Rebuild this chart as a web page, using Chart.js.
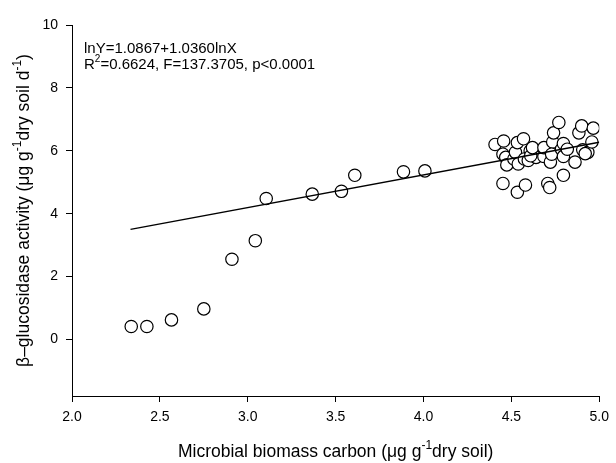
<!DOCTYPE html>
<html lang="en">
<head>
    <meta charset="UTF-8">
    <title>Glucosidase vs microbial biomass carbon</title>
    <style>
        html, body {
            margin: 0;
            padding: 0;
            background: #fff;
        }
        #wrap {
            width: 616px;
            height: 463px;
        }
    </style>
</head>
<body>
    <div id="wrap">
        <canvas id="chart" width="616" height="463"></canvas>
    </div>

    <script src="https://cdn.jsdelivr.net/npm/chart.js"></script>
    <script>
        // values (log-transformed axes)
        const carbon = [
            2.337, 2.426, 2.566, 2.75, 2.91, 3.043, 3.105, 3.367, 3.533, 3.609, 3.886, 4.008,
            4.407, 4.456, 4.452, 4.468, 4.474, 4.452, 4.514, 4.523, 4.534, 4.569,
            4.539, 4.534, 4.58, 4.574, 4.596, 4.607, 4.64, 4.61, 4.685, 4.62,
            4.685, 4.707, 4.718, 4.722, 4.735, 4.74, 4.77, 4.729, 4.785, 4.796,
            4.796, 4.796, 4.818, 4.862, 4.884, 4.90, 4.906, 4.935, 4.958, 4.966, 4.92
        ];
        const activity = [
            0.41, 0.41, 0.62, 0.97, 2.55, 3.14, 4.48, 4.62, 4.71, 5.22, 5.33, 5.36,
            6.20, 6.31, 5.89, 5.79, 5.55, 4.96, 5.74, 5.95, 6.26, 6.38,
            5.58, 4.68, 4.91, 5.74, 5.69, 6.00, 5.79, 5.84, 5.82, 6.10,
            6.10, 4.96, 4.83, 5.64, 6.28, 6.57, 6.90, 5.89, 6.05, 6.23,
            5.82, 5.22, 6.05, 5.64, 6.57, 6.79, 6.03, 5.95, 6.28, 6.72, 5.91
        ];
        // fitted line end points
        const fitX = [2.333, 5.0];
        const fitY = [3.50, 6.27];

        const xTicks = [2.0, 2.5, 3.0, 3.5, 4.0, 4.5, 5.0];
        const yTicks = [0, 2, 4, 6, 8, 10];

        const FONT = "'Liberation Sans', Arial, sans-serif";

        // draw text with superscript parts, segs = [[text, isSup], ...]
        function drawRich(ctx, segs, x, y, size, align) {
            const supSize = Math.round(size * 0.66);
            let total = 0;
            segs.forEach(s => {
                ctx.font = (s[1] ? supSize : size) + 'px ' + FONT;
                total += ctx.measureText(s[0]).width;
            });
            let cx = align === 'center' ? x - total / 2 : x;
            ctx.textAlign = 'left';
            ctx.textBaseline = 'middle';
            segs.forEach(s => {
                ctx.font = (s[1] ? supSize : size) + 'px ' + FONT;
                ctx.fillText(s[0], cx, s[1] ? y - size * 0.38 : y);
                cx += ctx.measureText(s[0]).width;
            });
        }

        const labelsPlugin = {
            id: 'labels',
            afterDraw(chart) {
                const ctx = chart.ctx;
                const area = chart.chartArea;
                ctx.save();
                ctx.fillStyle = '#000';

                // x title
                drawRich(ctx, [['Microbial biomass carbon (\u03bcg g', false], ['-1', true], ['dry soil)', false]],
                    (area.left + area.right) / 2, 452, 17.5, 'center');

                // y title
                ctx.save();
                ctx.translate(24, (area.top + area.bottom) / 2);
                ctx.rotate(-Math.PI / 2);
                drawRich(ctx, [['\u03b2\u2013glucosidase activity (\u03bcg g', false], ['-1', true],
                    ['dry soil d', false], ['-1', true], [')', false]], 0, 0, 17.5, 'center');
                ctx.restore();

                // regression text
                drawRich(ctx, [['lnY=1.0867+1.0360lnX', false]], area.left + 12, 49, 15, 'left');
                drawRich(ctx, [['R', false], ['2', true], ['=0.6624, F=137.3705, p<0.0001', false]],
                    area.left + 12, 65, 15, 'left');
                ctx.restore();
            }
        };

        const ctx = document.getElementById('chart').getContext('2d');
        new Chart(ctx, {
            type: 'scatter',
            data: {
                datasets: [
                    {
                        label: 'fit',
                        data: fitX.map((x, i) => ({ x: x, y: fitY[i] })),
                        showLine: true,
                        borderColor: '#000',
                        borderWidth: 1.5,
                        pointRadius: 0,
                        order: 0
                    },
                    {
                        label: 'samples',
                        data: carbon.map((x, i) => ({ x: x, y: activity[i] })),
                        backgroundColor: '#fff',
                        borderColor: '#000',
                        borderWidth: 1.2,
                        pointRadius: 6.2,
                        order: 1
                    }
                ]
            },
            options: {
                responsive: false,
                animation: false,
                layout: { padding: { top: 25, right: 12, left: 0, bottom: 0 } },
                plugins: {
                    legend: { display: false },
                    tooltip: { enabled: false }
                },
                scales: {
                    x: {
                        type: 'linear',
                        min: 2,
                        max: 5,
                        afterBuildTicks: s => { s.ticks = xTicks.map(v => ({ value: v })); },
                        afterFit: s => { s.height = 67; },
                        ticks: {
                            color: '#000',
                            font: { family: FONT, size: 14 },
                            padding: 7,
                            maxRotation: 0,
                            callback: v => Number(v).toFixed(1)
                        },
                        grid: { drawOnChartArea: false, tickLength: 6, color: '#000' },
                        border: { color: '#000', width: 1 }
                    },
                    y: {
                        type: 'linear',
                        min: -1.8,
                        max: 10,
                        afterBuildTicks: s => { s.ticks = yTicks.map(v => ({ value: v })); },
                        afterFit: s => { s.width = 72; },
                        ticks: {
                            color: '#000',
                            font: { family: FONT, size: 14 },
                            padding: 8,
                            callback: v => String(v)
                        },
                        grid: { drawOnChartArea: false, tickLength: 6, color: '#000' },
                        border: { color: '#000', width: 1 }
                    }
                }
            },
            plugins: [labelsPlugin]
        });
    </script>
</body>
</html>
